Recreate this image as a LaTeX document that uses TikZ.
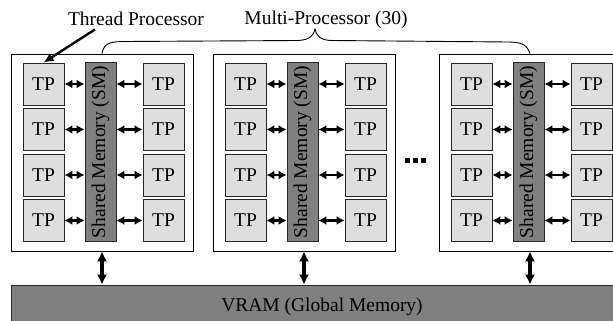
\documentclass[tikz,border=0pt]{standalone}
\usepackage{fontspec}
\setmainfont{Liberation Serif}
\usetikzlibrary{arrows.meta}

\tikzset{
  mp/.style={draw, line width=0.9pt, minimum width=182pt, minimum height=197pt, inner sep=0pt},
  tp/.style={draw=black!85, fill=black!13, line width=0.8pt, minimum width=41pt, minimum height=42pt, inner sep=0pt},
  sm/.style={draw=black!85, fill=black!50, line width=0.8pt, minimum width=31pt, minimum height=179pt, inner sep=0pt},
  vram/.style={draw=black!85, fill=black!50, line width=0.9pt, minimum width=622pt, minimum height=44pt, inner sep=0pt},
  link/.style={<->, line width=2.6pt, >={Latex[length=8pt,width=9pt]}},
  bus/.style={<->, line width=3.2pt, >={Latex[length=10pt,width=10.5pt]}},
}

\begin{document}
\begin{tikzpicture}[x=1pt, y=-1pt, font=\fontsize{19.5}{20}\selectfont]
  \useasboundingbox (0,0) rectangle (613,321);

  \node (tplabel) at (136,19) {Thread Processor};
  \node (mplabel) at (326,20) {Multi-Processor (30)};
  \node[vram] (vram) at (322,307) {VRAM (Global Memory)};

  % one multi-processor: shared memory with two columns of four TPs
  \foreach \m/\dx in {1/0, 2/202, 3/428} {
    \node[mp] (mp\m) at (102+\dx,152.5) {};
    \node[sm] (sm\m) at (100.5+\dx,152) {\rotatebox{90}{Shared Memory (SM)}};
    \foreach \r in {1,...,4} {
      \node[tp] (l\m\r) at (43.5+\dx,84+45.5*\r-45.5) {TP};
      \node[tp] (r\m\r) at (163.5+\dx,84+45.5*\r-45.5) {TP};
      \draw[link] (l\m\r.east) -- (l\m\r.east -| sm\m.west);
      \draw[link] (sm\m.east |- r\m\r.west) -- (r\m\r.west);
    }
    \draw[bus] (mp\m.south) -- (mp\m.south |- vram.north);
  }

  \draw[->, line width=2.4pt, >={Latex[length=10pt,width=9pt]}]
    ([xshift=-41pt]tplabel.south) -- (l11.north);

  % brace over the multi-processors
  \draw[line width=0.9pt] (mp1.north) .. controls (104,43) and (110,41.5) .. (125,41.5)
    -- (298,40.5) .. controls (310,40) and (314,35) .. (315,29)
    .. controls (316,35) and (320,40.5) .. (332,40.5)
    -- (508,42) .. controls (522,42) and (527,45) .. (mp3.north);

  % dots between the second and third block
  \foreach \d in {0,8,16}
    \fill (405+\d,158) rectangle +(5,5);
\end{tikzpicture}
\end{document}
